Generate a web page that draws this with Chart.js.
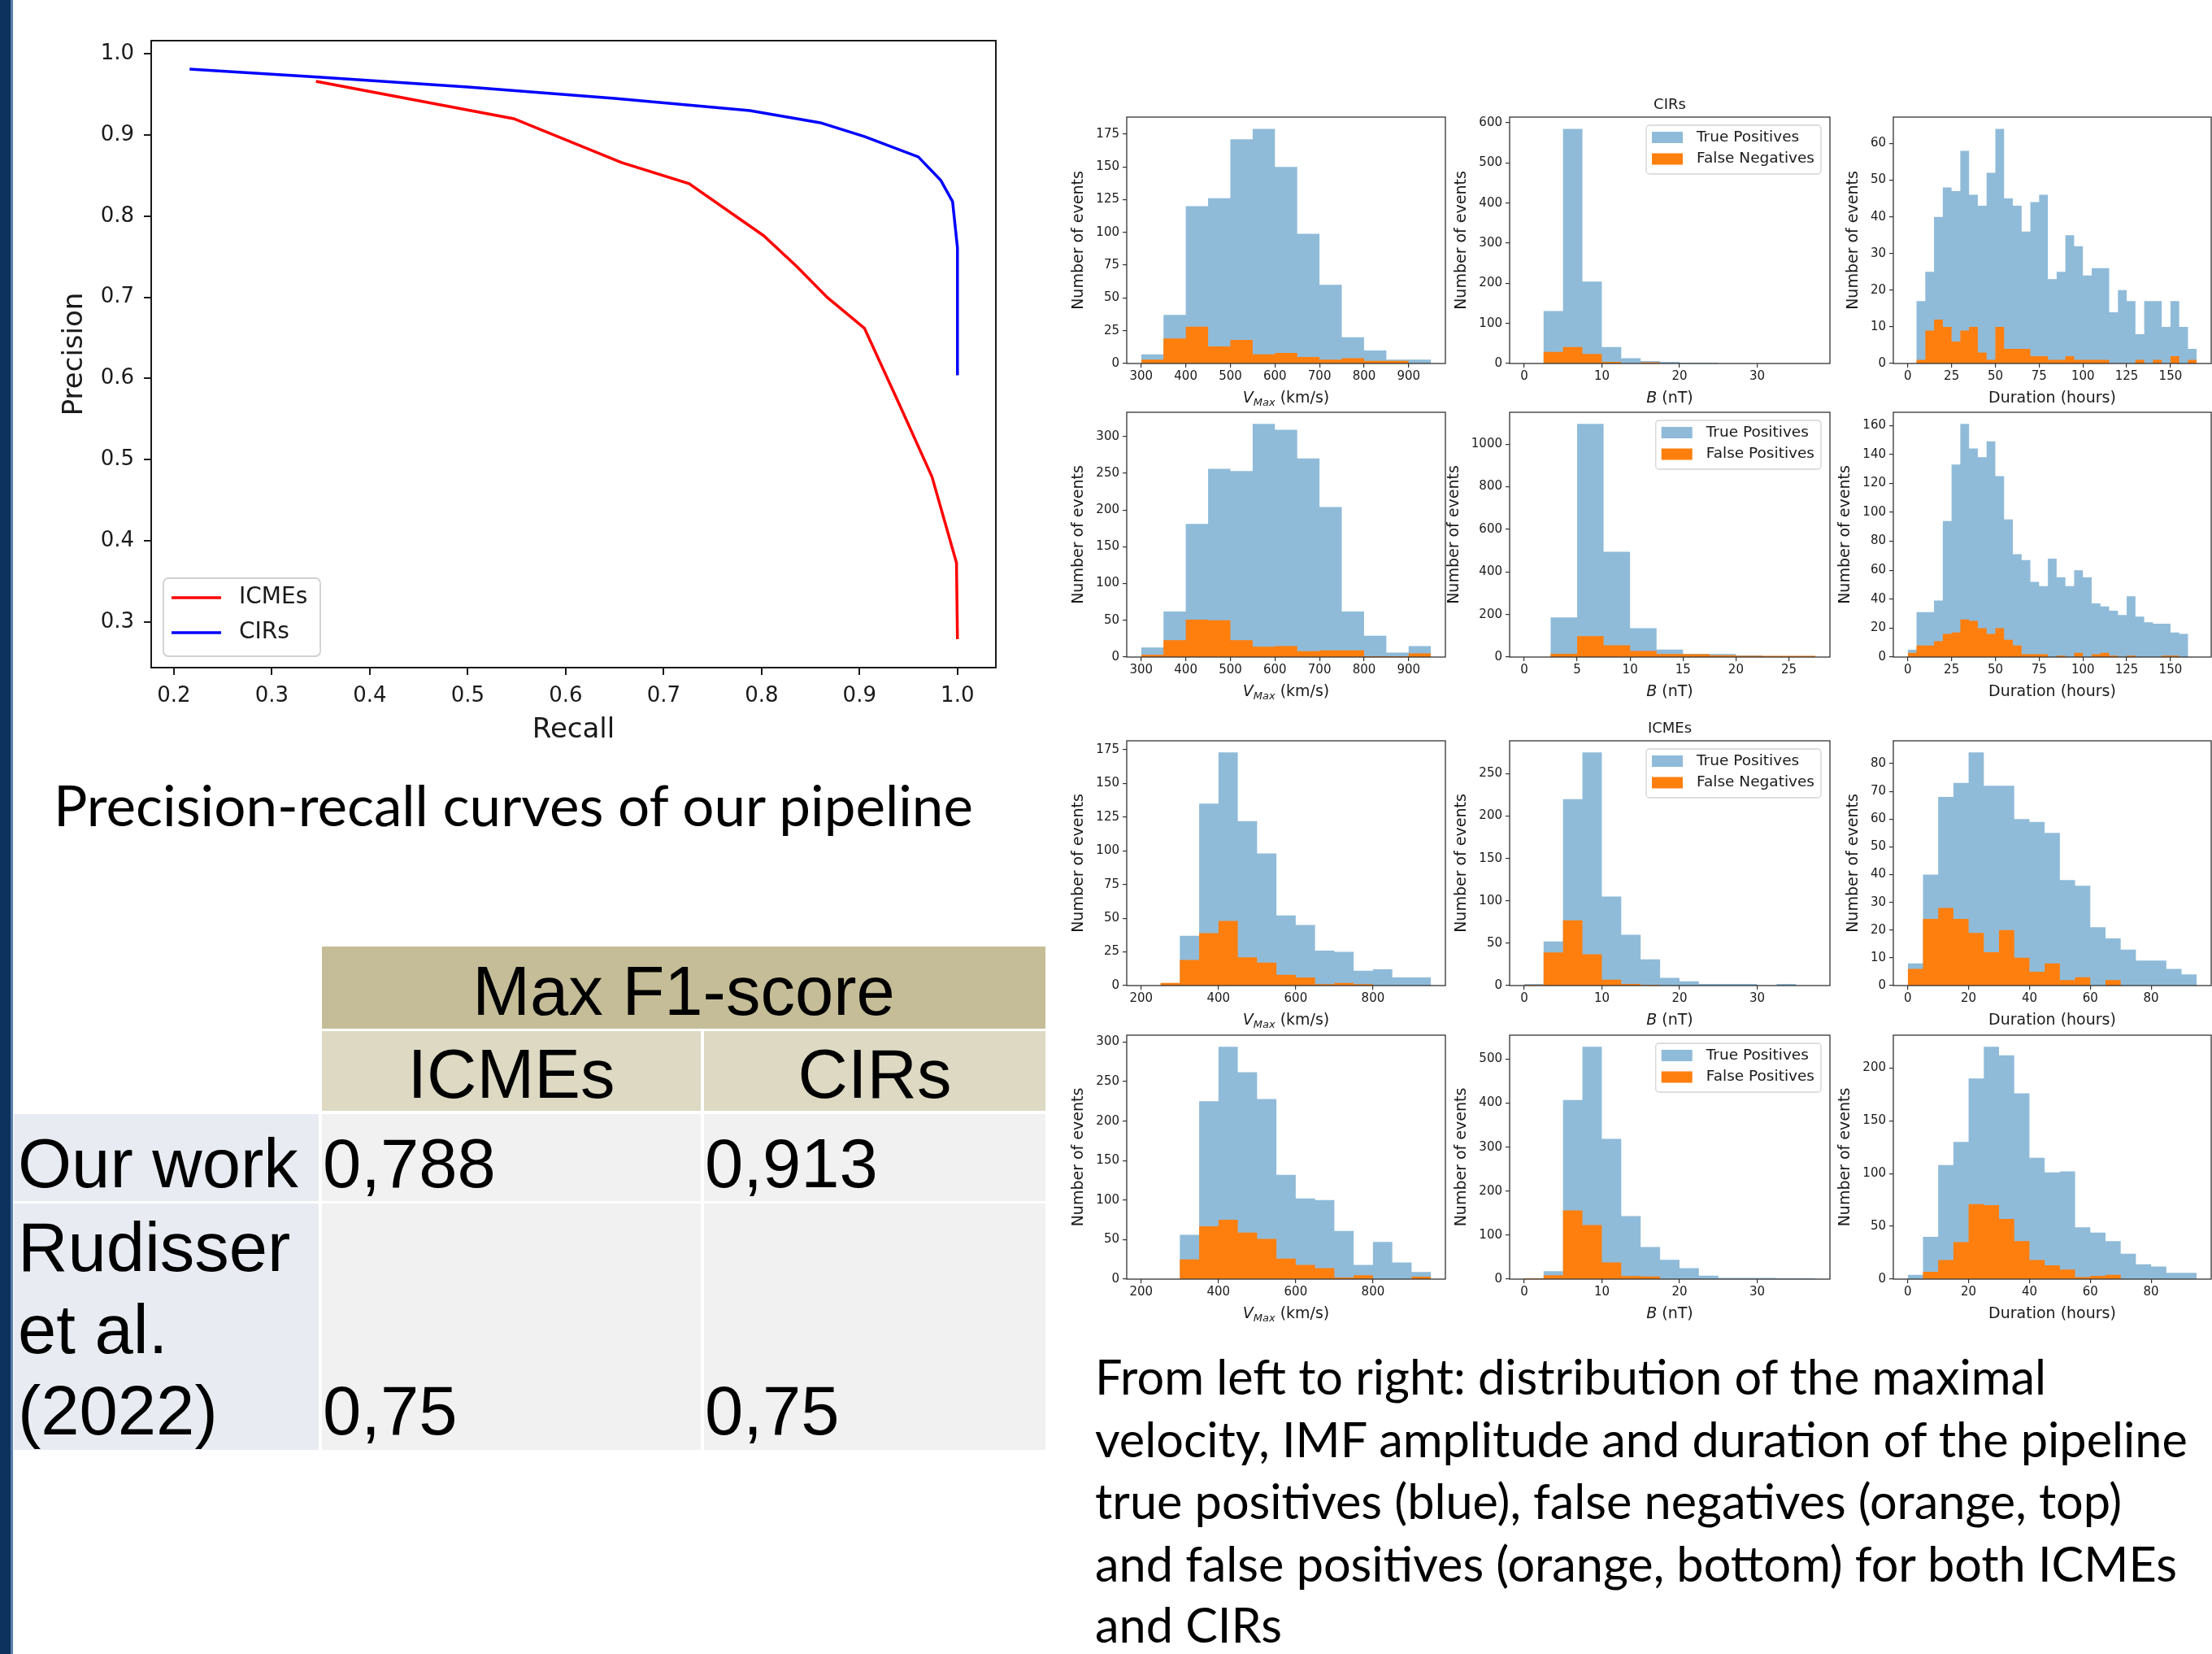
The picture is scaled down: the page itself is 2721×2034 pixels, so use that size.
<!DOCTYPE html>
<html>
<head>
<meta charset="utf-8">
<title>Pipeline results: precision-recall and event distributions</title>
<script src="https://cdn.jsdelivr.net/npm/chart.js@4.4.1/dist/chart.umd.min.js"></script>
<style>
  html, body { margin: 0; padding: 0; background: #ffffff; }
  body { position: relative; width: 2721px; height: 2034px; overflow: hidden; }
  .abs { position: absolute; }
  .txt { position: absolute; left: 0; top: 0; white-space: nowrap; line-height: 1.15; color: #000; }
  .tab { font-family: 'Liberation Sans', Arial, sans-serif; font-size: 85px; }
  .cap { font-family: Lato, 'Open Sans', sans-serif; font-size: 60px; }
  .mpl { font-family: 'DejaVu Sans', sans-serif; font-size: 18px; color: #1a1a1a; }
  .probe { display: inline-block; width: 0; height: 0; }
  canvas { display: block; }
</style>
</head>
<body>

<div class="abs" style="left:0;top:0;"><canvas id="prChart" width="1260" height="920"></canvas></div>
<div id="hists"></div>

<div class="txt cap" id="capLeft" data-x="66" data-base="1016">Precision-recall curves of our pipeline</div>

<!-- F1 table -->
<div class="abs" style="left:396px;top:1164px;width:890px;height:101px;background:#c4bd97"></div>
<div class="abs" style="left:396px;top:1268px;width:466px;height:98px;background:#ddd9c3"></div>
<div class="abs" style="left:866px;top:1268px;width:420px;height:98px;background:#ddd9c3"></div>
<div class="abs" style="left:17px;top:1370px;width:375px;height:107px;background:#e8ecf2"></div>
<div class="abs" style="left:396px;top:1370px;width:466px;height:107px;background:#f1f1f1"></div>
<div class="abs" style="left:866px;top:1370px;width:420px;height:107px;background:#f1f1f1"></div>
<div class="abs" style="left:17px;top:1480px;width:375px;height:303px;background:#e8ecf2"></div>
<div class="abs" style="left:396px;top:1480px;width:466px;height:303px;background:#f1f1f1"></div>
<div class="abs" style="left:866px;top:1480px;width:420px;height:303px;background:#f1f1f1"></div>

<div class="txt tab" data-cx="841" data-base="1248">Max F1-score</div>
<div class="txt tab" data-cx="629" data-base="1350">ICMEs</div>
<div class="txt tab" data-cx="1076" data-base="1350">CIRs</div>
<div class="txt tab" data-x="22" data-base="1460">Our work</div>
<div class="txt tab" data-x="397" data-base="1460">0,788</div>
<div class="txt tab" data-x="867" data-base="1460">0,913</div>
<div class="txt tab" data-x="22" data-base="1563">Rudisser</div>
<div class="txt tab" data-x="22" data-base="1664">et al.</div>
<div class="txt tab" data-x="22" data-base="1764">(2022)</div>
<div class="txt tab" data-x="397" data-base="1764">0,75</div>
<div class="txt tab" data-x="867" data-base="1764">0,75</div>

<!-- histogram group titles -->
<div class="txt mpl" data-cx="2054" data-base="134">CIRs</div>
<div class="txt mpl" data-cx="2054" data-base="901">ICMEs</div>

<div class="txt cap cap2" data-x="1347" data-base="1715">From left to right: distribution of the maximal</div>
<div class="txt cap cap2" id="capRef" data-x="1347" data-base="1792">velocity, IMF amplitude and duration of the pipeline</div>
<div class="txt cap cap2" data-x="1347" data-base="1868">true positives (blue), false negatives (orange, top)</div>
<div class="txt cap cap2" data-x="1347" data-base="1945">and false positives (orange, bottom) for both ICMEs</div>
<div class="txt cap cap2" data-x="1347" data-base="2020">and CIRs</div>

<div class="abs" style="left:0;top:0;width:13px;height:2034px;background:#0d325e;z-index:5"></div>
<div class="abs" style="left:13px;top:0;width:3px;height:2034px;background:#5b7fa8;z-index:5"></div>

<script>
// ---- precision-recall curves ----
const cirRecall = [0.216, 0.35, 0.50, 0.65, 0.788, 0.860, 0.905, 0.960, 0.983, 0.995, 1.0, 1.0];
const cirPrecision = [0.981, 0.971, 0.959, 0.945, 0.930, 0.915, 0.898, 0.873, 0.844, 0.818, 0.761, 0.604];
const icmeRecall = [0.345, 0.547, 0.657, 0.726, 0.802, 0.836, 0.867, 0.905, 0.940, 0.974, 0.999, 1.0];
const icmePrecision = [0.966, 0.920, 0.866, 0.840, 0.776, 0.738, 0.700, 0.662, 0.570, 0.479, 0.373, 0.279];
const prXTicks = [0.2, 0.3, 0.4, 0.5, 0.6, 0.7, 0.8, 0.9, 1.0];
const prYTicks = [0.3, 0.4, 0.5, 0.6, 0.7, 0.8, 0.9, 1.0];

// ---- histograms: bin edges and counts ----
// CIRs, top row (true positives / false negatives)
const cirVmaxEdges = [300, 350, 400, 450, 500, 550, 600, 650, 700, 750, 800, 850, 900, 950];
const cirTopVmaxTP = [7, 37, 120, 126, 171, 179, 150, 99, 60, 20, 10, 3, 3];
const cirTopVmaxFN = [3, 19, 28, 13, 18, 7, 8, 5, 3, 4, 2, 2, 0];
const cirTopBEdges = [0, 2.5, 5, 7.5, 10, 12.5, 15, 17.5, 20, 22.5, 25, 27.5, 30, 32.5, 35, 37.5];
const cirTopBTP = [0, 131, 585, 204, 41, 13, 6, 4, 2, 2, 0, 0, 0, 0, 0];
const cirTopBFN = [0, 29, 41, 24, 4, 0, 3, 0, 0, 0, 0, 0, 0, 0, 0];
const cirDurEdges = [0, 5, 10, 15, 20, 25, 30, 35, 40, 45, 50, 55, 60, 65, 70, 75, 80, 85, 90, 95,
  100, 105, 110, 115, 120, 125, 130, 135, 140, 145, 150, 155, 160, 165];
const cirTopDurTP = [0, 17, 25, 40, 48, 47, 58, 46, 43, 52, 64, 45, 43, 36, 44, 46, 23, 25, 35, 32,
  24, 26, 26, 14, 20, 17, 8, 17, 17, 10, 17, 10, 4];
const cirTopDurFN = [0, 1, 9, 12, 10, 6, 9, 10, 3, 1, 10, 4, 4, 4, 2, 2, 1, 1, 2, 1,
  1, 1, 1, 0, 0, 0, 1, 0, 1, 0, 2, 0, 1];

// CIRs, second row (true positives / false positives)
const cirBotVmaxTP = [13, 62, 181, 256, 253, 317, 309, 270, 204, 62, 29, 6, 15];
const cirBotVmaxFP = [3, 23, 51, 50, 23, 14, 15, 8, 9, 9, 1, 1, 5];
const cirBotBEdges = [0, 2.5, 5, 7.5, 10, 12.5, 15, 17.5, 20, 22.5, 25, 27.5];
const cirBotBTP = [0, 186, 1095, 495, 136, 35, 15, 14, 8, 4, 2];
const cirBotBFP = [0, 15, 98, 55, 29, 14, 13, 9, 6, 6, 6];
const cirBotDurTP = [5, 31, 31, 39, 94, 133, 161, 144, 138, 149, 125, 95, 71, 67, 52, 49, 68, 55, 49, 60,
  55, 37, 35, 32, 29, 42, 28, 24, 23, 23, 17, 16, 0];
const cirBotDurFP = [3, 8, 8, 11, 16, 17, 26, 25, 20, 16, 20, 12, 8, 2, 2, 2, 0, 1, 0, 3,
  0, 2, 3, 1, 0, 1, 0, 0, 0, 1, 1, 0, 0];

// ICMEs, third row (true positives / false negatives)
const icmeVmaxEdges = [200, 250, 300, 350, 400, 450, 500, 550, 600, 650, 700, 750, 800, 850, 900, 950];
const icmeTopVmaxTP = [0, 0, 37, 135, 173, 122, 98, 52, 45, 26, 25, 11, 12, 6, 6];
const icmeTopVmaxFN = [0, 2, 19, 39, 48, 21, 17, 8, 6, 1, 2, 1, 0, 0, 0];
const icmeBEdges = [0, 2.5, 5, 7.5, 10, 12.5, 15, 17.5, 20, 22.5, 25, 27.5, 30, 32.5, 35, 37.5];
const icmeTopBTP = [2, 52, 220, 275, 105, 60, 31, 9, 5, 2, 2, 2, 0, 2, 0];
const icmeTopBFN = [1, 39, 77, 37, 7, 2, 1, 0, 0, 0, 0, 0, 0, 0, 0];
const icmeDurEdges = [0, 5, 10, 15, 20, 25, 30, 35, 40, 45, 50, 55, 60, 65, 70, 75, 80, 85, 90, 95];
const icmeTopDurTP = [8, 40, 68, 73, 84, 72, 72, 60, 59, 55, 38, 36, 21, 17, 13, 9, 9, 6, 4];
const icmeTopDurFN = [6, 24, 28, 24, 19, 12, 20, 10, 5, 8, 2, 3, 0, 2, 0, 0, 0, 0, 0];

// ICMEs, bottom row (true positives / false positives)
const icmeBotVmaxTP = [0, 0, 56, 225, 294, 262, 228, 132, 102, 100, 61, 18, 47, 21, 9];
const icmeBotVmaxFP = [0, 0, 25, 67, 75, 59, 51, 26, 18, 14, 2, 5, 0, 0, 3];
const icmeBotBTP = [2, 18, 407, 528, 319, 143, 73, 44, 25, 8, 3, 3, 3, 2, 2];
const icmeBotBFP = [2, 9, 156, 123, 38, 7, 6, 0, 0, 0, 0, 0, 0, 0, 0];
const icmeBotDurTP = [4, 40, 108, 130, 190, 220, 212, 176, 115, 101, 102, 49, 44, 36, 24, 14, 12, 6, 6];
const icmeBotDurFP = [0, 7, 18, 35, 71, 70, 57, 36, 18, 13, 9, 2, 3, 4, 0, 0, 0, 0, 0];

// tick values
const cirVmaxTicks = [300, 400, 500, 600, 700, 800, 900];
const cirTopBTicks = [0, 10, 20, 30];
const cirBotBTicks = [0, 5, 10, 15, 20, 25];
const cirDurTicks = [0, 25, 50, 75, 100, 125, 150];
const icmeVmaxTicks = [200, 400, 600, 800];
const icmeBTicks = [0, 10, 20, 30];
const icmeDurTicks = [0, 20, 40, 60, 80];
const cirTopVmaxY = [0, 25, 50, 75, 100, 125, 150, 175];
const cirTopBY = [0, 100, 200, 300, 400, 500, 600];
const cirTopDurY = [0, 10, 20, 30, 40, 50, 60];
const cirBotVmaxY = [0, 50, 100, 150, 200, 250, 300];
const cirBotBY = [0, 200, 400, 600, 800, 1000];
const cirBotDurY = [0, 20, 40, 60, 80, 100, 120, 140, 160];
const icmeTopVmaxY = [0, 25, 50, 75, 100, 125, 150, 175];
const icmeTopBY = [0, 50, 100, 150, 200, 250];
const icmeTopDurY = [0, 10, 20, 30, 40, 50, 60, 70, 80];
const icmeBotVmaxY = [0, 50, 100, 150, 200, 250, 300];
const icmeBotBY = [0, 100, 200, 300, 400, 500];
const icmeBotDurY = [0, 50, 100, 150, 200];

const BLUE = 'rgba(31,119,180,0.5)';
const ORANGE = '#ff7f0e';
const INK = '#1a1a1a';
const MPL_FONT = 'DejaVu Sans';

Chart.defaults.font.family = "'DejaVu Sans', sans-serif";
Chart.defaults.color = INK;

// box around the plot area (matplotlib spines)
function framePlugin(color, width) {
  return {
    id: 'frame',
    afterDatasetsDraw(chart) {
      const { ctx, chartArea: a } = chart;
      ctx.save();
      ctx.strokeStyle = color;
      ctx.lineWidth = width;
      ctx.strokeRect(a.left, a.top, a.right - a.left, a.bottom - a.top);
      ctx.restore();
    }
  };
}

// axis titles, x title may have italic / subscript parts
function titlesPlugin(cfg) {
  return {
    id: 'titles',
    afterDraw(chart) {
      const { ctx, chartArea: a } = chart;
      ctx.save();
      ctx.fillStyle = INK;
      ctx.font = cfg.tickFont;
      let maxW = 0;
      chart.scales.y.ticks.forEach(t => { maxW = Math.max(maxW, ctx.measureText(String(t.label)).width); });
      const cx = a.left - cfg.tickSpace - maxW - cfg.gap;
      ctx.save();
      ctx.translate(cx, (a.top + a.bottom) / 2);
      ctx.rotate(-Math.PI / 2);
      ctx.font = cfg.size + 'px ' + MPL_FONT;
      ctx.textAlign = 'center';
      ctx.textBaseline = 'middle';
      ctx.fillText(cfg.yText, 0, 0);
      ctx.restore();

      const fontOf = p => (p.it ? 'italic ' : '') + (p.sub ? Math.round(cfg.size * 0.7) : cfg.size) + 'px ' + MPL_FONT;
      const widths = cfg.xParts.map(p => { ctx.font = fontOf(p); return ctx.measureText(p.t).width; });
      let x = (a.left + a.right) / 2 - widths.reduce((s, w) => s + w, 0) / 2;
      ctx.textAlign = 'left';
      ctx.textBaseline = 'alphabetic';
      cfg.xParts.forEach((p, i) => {
        ctx.font = fontOf(p);
        ctx.fillText(p.t, x, a.bottom + cfg.xDy + (p.sub ? cfg.size * 0.2 : 0));
        x += widths[i];
      });
      ctx.restore();
    }
  };
}

function histLegendPlugin(entries) {
  return {
    id: 'histLegend',
    afterDraw(chart) {
      const { ctx, chartArea: a } = chart;
      ctx.save();
      ctx.font = '18.5px ' + MPL_FONT;
      const tw = Math.max(...entries.map(e => ctx.measureText(e.text).width));
      const w = 62 + tw + 8, h = 60;
      const x0 = a.right - 11 - w, y0 = a.top + 10;
      ctx.beginPath();
      ctx.roundRect(x0, y0, w, h, 4);
      ctx.fillStyle = 'rgba(255,255,255,0.85)';
      ctx.fill();
      ctx.strokeStyle = '#d4d4d4';
      ctx.lineWidth = 1.3;
      ctx.stroke();
      entries.forEach((e, i) => {
        const cy = y0 + 15 + i * 26.5;
        ctx.fillStyle = e.color;
        ctx.fillRect(x0 + 7, cy - 7, 38, 14);
        ctx.fillStyle = INK;
        ctx.textBaseline = 'middle';
        ctx.fillText(e.text, x0 + 62, cy);
      });
      ctx.restore();
    }
  };
}

function prLegendPlugin(entries) {
  return {
    id: 'prLegend',
    afterDraw(chart) {
      const { ctx, chartArea: a } = chart;
      ctx.save();
      const x0 = a.left + 15, y0 = a.bottom - 14 - 96;
      ctx.beginPath();
      ctx.roundRect(x0, y0, 193, 96, 6);
      ctx.fillStyle = 'rgba(255,255,255,0.85)';
      ctx.fill();
      ctx.strokeStyle = '#d0d0d0';
      ctx.lineWidth = 1.8;
      ctx.stroke();
      ctx.font = '28px ' + MPL_FONT;
      ctx.textBaseline = 'middle';
      entries.forEach((e, i) => {
        const cy = y0 + 24 + i * 43;
        ctx.strokeStyle = e.color;
        ctx.lineWidth = 3.5;
        ctx.beginPath();
        ctx.moveTo(x0 + 10, cy);
        ctx.lineTo(x0 + 71, cy);
        ctx.stroke();
        ctx.fillStyle = INK;
        ctx.fillText(e.text, x0 + 93, cy);
      });
      ctx.restore();
    }
  };
}

// ---- precision-recall chart ----
const allRecall = cirRecall.concat(icmeRecall);
const allPrec = cirPrecision.concat(icmePrecision);
const rLo = Math.min(...allRecall), rHi = Math.max(...allRecall);
const pLo = Math.min(...allPrec), pHi = Math.max(...allPrec);

new Chart(document.getElementById('prChart'), {
  type: 'scatter',
  data: {
    datasets: [
      { label: 'CIRs', data: cirRecall.map((r, i) => ({ x: r, y: cirPrecision[i] })),
        borderColor: '#0000ff', showLine: true, borderWidth: 3.5, pointRadius: 0, fill: false },
      { label: 'ICMEs', data: icmeRecall.map((r, i) => ({ x: r, y: icmePrecision[i] })),
        borderColor: '#ff0000', showLine: true, borderWidth: 3.5, pointRadius: 0, fill: false }
    ]
  },
  options: {
    responsive: false,
    animation: false,
    events: [],
    layout: { padding: { top: 50, right: 35, bottom: 0, left: 0 } },
    plugins: { legend: { display: false }, tooltip: { enabled: false } },
    scales: {
      x: {
        type: 'linear',
        min: rLo - 0.05 * (rHi - rLo),
        max: rHi + 0.05 * (rHi - rLo),
        afterFit: s => { s.height = 99; },
        afterBuildTicks: s => { s.ticks = prXTicks.map(v => ({ value: v })); },
        grid: { drawOnChartArea: false, drawTicks: true, tickLength: 9, color: INK, lineWidth: 2 },
        border: { display: false },
        ticks: { font: { size: 26 }, padding: 11, autoSkip: false, maxRotation: 0, callback: v => v.toFixed(1) }
      },
      y: {
        type: 'linear',
        min: pLo - 0.05 * (pHi - pLo),
        max: pHi + 0.05 * (pHi - pLo),
        afterFit: s => { s.width = 186; },
        afterBuildTicks: s => { s.ticks = prYTicks.map(v => ({ value: v })); },
        grid: { drawOnChartArea: false, drawTicks: true, tickLength: 9, color: INK, lineWidth: 2 },
        border: { display: false },
        ticks: { font: { size: 26 }, padding: 12, autoSkip: false, callback: v => v.toFixed(1) }
      }
    }
  },
  plugins: [
    framePlugin(INK, 2),
    titlesPlugin({ tickFont: '26px ' + MPL_FONT, tickSpace: 21, gap: 31, size: 34,
      yText: 'Precision', xParts: [{ t: 'Recall' }], xDy: 86 }),
    prLegendPlugin([{ text: 'ICMEs', color: '#ff0000' }, { text: 'CIRs', color: '#0000ff' }])
  ]
});

// ---- histogram grid ----
const COLS = [1386, 1857, 2329];
const COL_W = [392, 394, 391];
const ROWS = [[143, 447], [506, 808], [910, 1212], [1272, 1573]];
const X_TITLES = [
  [{ t: 'V', it: true }, { t: 'Max', it: true, sub: true }, { t: ' (km/s)' }],
  [{ t: 'B', it: true }, { t: ' (nT)' }],
  [{ t: 'Duration (hours)' }]
];

const panels = [
  { row: 0, col: 0, edges: cirVmaxEdges, tp: cirTopVmaxTP, other: cirTopVmaxFN, xt: cirVmaxTicks, yt: cirTopVmaxY },
  { row: 0, col: 1, edges: cirTopBEdges, tp: cirTopBTP, other: cirTopBFN, xt: cirTopBTicks, yt: cirTopBY },
  { row: 0, col: 2, edges: cirDurEdges, tp: cirTopDurTP, other: cirTopDurFN, xt: cirDurTicks, yt: cirTopDurY },
  { row: 1, col: 0, edges: cirVmaxEdges, tp: cirBotVmaxTP, other: cirBotVmaxFP, xt: cirVmaxTicks, yt: cirBotVmaxY },
  { row: 1, col: 1, edges: cirBotBEdges, tp: cirBotBTP, other: cirBotBFP, xt: cirBotBTicks, yt: cirBotBY },
  { row: 1, col: 2, edges: cirDurEdges, tp: cirBotDurTP, other: cirBotDurFP, xt: cirDurTicks, yt: cirBotDurY },
  { row: 2, col: 0, edges: icmeVmaxEdges, tp: icmeTopVmaxTP, other: icmeTopVmaxFN, xt: icmeVmaxTicks, yt: icmeTopVmaxY },
  { row: 2, col: 1, edges: icmeBEdges, tp: icmeTopBTP, other: icmeTopBFN, xt: icmeBTicks, yt: icmeTopBY },
  { row: 2, col: 2, edges: icmeDurEdges, tp: icmeTopDurTP, other: icmeTopDurFN, xt: icmeDurTicks, yt: icmeTopDurY },
  { row: 3, col: 0, edges: icmeVmaxEdges, tp: icmeBotVmaxTP, other: icmeBotVmaxFP, xt: icmeVmaxTicks, yt: icmeBotVmaxY },
  { row: 3, col: 1, edges: icmeBEdges, tp: icmeBotBTP, other: icmeBotBFP, xt: icmeBTicks, yt: icmeBotBY },
  { row: 3, col: 2, edges: icmeDurEdges, tp: icmeBotDurTP, other: icmeBotDurFP, xt: icmeDurTicks, yt: icmeBotDurY }
];

// step outline: each bin's count held from its left edge to the next edge
function steps(edges, counts) {
  const pts = counts.map((c, i) => ({ x: edges[i], y: c }));
  pts.push({ x: edges[edges.length - 1], y: 0 });
  return pts;
}

const host = document.getElementById('hists');
panels.forEach(p => {
  const padR = p.col === 2 ? 1 : 12;
  const plotH = ROWS[p.row][1] - ROWS[p.row][0];
  const w = 100 + COL_W[p.col] + padR, h = 12 + plotH + 70;
  const div = document.createElement('div');
  div.className = 'abs';
  div.style.left = (COLS[p.col] - 100) + 'px';
  div.style.top = (ROWS[p.row][0] - 12) + 'px';
  const cv = document.createElement('canvas');
  cv.width = w; cv.height = h;
  div.appendChild(cv);
  host.appendChild(div);

  const otherLabel = p.row % 2 === 0 ? 'False Negatives' : 'False Positives';
  const lo = p.edges[0], hi = p.edges[p.edges.length - 1];
  const ymax = Math.max(...p.tp, ...p.other) * 1.05;
  const tickFont = { size: 15 };
  const grid = { drawOnChartArea: false, drawTicks: true, tickLength: 5, color: '#333333', lineWidth: 1.2 };

  const plugins = [
    framePlugin('#333333', 1.3),
    titlesPlugin({ tickFont: '15px ' + MPL_FONT, tickSpace: 9, gap: 21, size: 19,
      yText: 'Number of events', xParts: X_TITLES[p.col], xDy: 48 })
  ];
  if (p.col === 1) {
    plugins.push(histLegendPlugin([{ text: 'True Positives', color: BLUE }, { text: otherLabel, color: ORANGE }]));
  }

  new Chart(cv, {
    type: 'line',
    data: {
      datasets: [
        { label: otherLabel, data: steps(p.edges, p.other), stepped: 'before', fill: 'origin',
          backgroundColor: ORANGE, borderColor: 'rgba(0,0,0,0)', borderWidth: 0, pointRadius: 0 },
        { label: 'True Positives', data: steps(p.edges, p.tp), stepped: 'before', fill: 'origin',
          backgroundColor: BLUE, borderColor: 'rgba(0,0,0,0)', borderWidth: 0, pointRadius: 0 }
      ]
    },
    options: {
      responsive: false,
      animation: false,
      events: [],
      layout: { padding: { top: 12, right: padR, bottom: 0, left: 0 } },
      plugins: { legend: { display: false }, tooltip: { enabled: false } },
      scales: {
        x: {
          type: 'linear',
          min: lo - 0.05 * (hi - lo),
          max: hi + 0.05 * (hi - lo),
          afterFit: s => { s.height = 70; },
          afterBuildTicks: s => { s.ticks = p.xt.map(v => ({ value: v })); },
          grid: grid,
          border: { display: false },
          ticks: { font: tickFont, padding: 2, autoSkip: false, maxRotation: 0, callback: v => String(v) }
        },
        y: {
          type: 'linear',
          min: 0,
          max: ymax,
          afterFit: s => { s.width = 100; },
          afterBuildTicks: s => { s.ticks = p.yt.map(v => ({ value: v })); },
          grid: grid,
          border: { display: false },
          ticks: { font: tickFont, padding: 4, autoSkip: false, callback: v => String(v) }
        }
      }
    },
    plugins: plugins
  });
});

// ---- text placement (by baseline) ----
function fitFont(els, ref, target) {
  const w = ref.getBoundingClientRect().width;
  const size = parseFloat(getComputedStyle(ref).fontSize) * target / w;
  els.forEach(e => { e.style.fontSize = size + 'px'; });
}
fitFont([document.getElementById('capLeft')], document.getElementById('capLeft'), 1131);
fitFont(Array.from(document.querySelectorAll('.cap2')), document.getElementById('capRef'), 1344);

document.querySelectorAll('.txt').forEach(el => {
  const probe = document.createElement('span');
  probe.className = 'probe';
  el.appendChild(probe);
  const box = el.getBoundingClientRect();
  const base = probe.getBoundingClientRect().top - box.top;
  const x = el.dataset.cx ? parseFloat(el.dataset.cx) - box.width / 2 : parseFloat(el.dataset.x);
  el.style.left = x + 'px';
  el.style.top = (parseFloat(el.dataset.base) - base) + 'px';
});
</script>
</body>
</html>
